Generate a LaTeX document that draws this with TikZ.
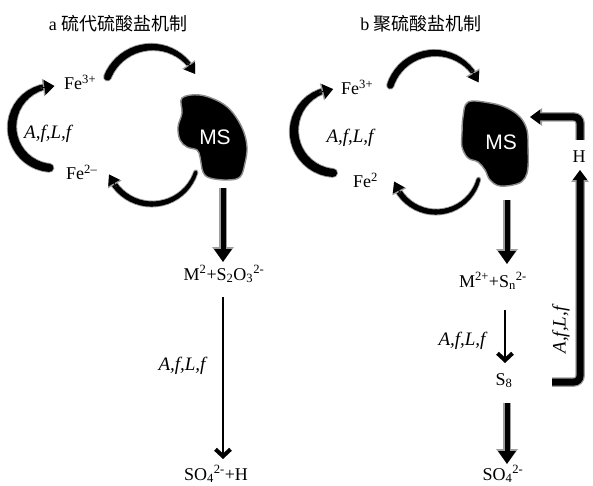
\documentclass[tikz,border=0pt]{standalone}
\usepackage{fontspec}
\setmainfont{Liberation Serif}
\newfontfamily\cjkfont{Noto Sans CJK SC}
\newfontfamily\msfont{Liberation Sans}
\usetikzlibrary{arrows.meta}

% tapered curved arrow: #1 cx, #2 cy, #3 r, #4 a1, #5 a2 (a2>a1), #6 w1, #7 w2, #8 bulge, #9 tip width
\newcommand\tarc[9]{%
  \pgfmathsetmacro\tipang{10/#3*57.2958}%
  \pgfmathsetmacro\bodyend{#5-\tipang*0.8}%
  \pgfmathsetmacro\tipstart{#5-\tipang*1.4}%
  \foreach \lw/\col in {1.8/black!38, 0/black}{%
    \foreach \k in {0,...,19}{%
      \pgfmathsetmacro\aa{#4+(\bodyend-#4)*\k/20}%
      \pgfmathsetmacro\ab{#4+(\bodyend-#4)*(\k+1)/20}%
      \pgfmathsetmacro\ww{#6+(#7-#6)*(\k+0.5)/20+#8*sin(180*(\k+0.5)/20)+\lw}%
      \draw[color=\col, line width=\ww pt, line cap=round]
        plot[domain=\aa:\ab, samples=3] ({#1+#3*cos(\x)},{#2+#3*sin(\x)});
    }%
  }%
  \pgfmathsetmacro\tw{#9+2.5}%
  \draw[black!38, line width=1pt, -{Triangle[length=11.5pt,width=\tw pt]}]
    plot[domain=\tipstart:#5, samples=2] ({#1+#3*cos(\x)},{#2+#3*sin(\x)});
  \draw[black, line width=1pt, -{Triangle[length=10pt,width=#9pt]}]
    plot[domain=\tipstart:#5, samples=2] ({#1+#3*cos(\x)},{#2+#3*sin(\x)});
}

\begin{document}
\begin{tikzpicture}[x=1pt,y=-1pt,
  lbl/.style={font=\fontsize{18}{20}\selectfont, inner sep=1pt},
  afl/.style={font=\fontsize{19}{22}\selectfont\itshape, inner sep=1pt},
  ttl/.style={font=\fontsize{18}{21}\selectfont, inner sep=1pt},
  mstext/.style={font=\msfont\fontsize{21}{24}\selectfont, text=white, inner sep=0pt},
  blob/.style={fill=black, draw=black!45, line width=1.4pt},
  thickhalo/.style={draw=black!38, line width=7.5pt, -{Triangle[length=15pt,width=21pt]}},
  thickcore/.style={draw=black, line width=5pt, -{Triangle[length=13pt,width=17pt]}},
  brhalo/.style={draw=black!38, line width=9.5pt, rounded corners=6pt, -{Triangle[length=12pt,width=17pt]}},
  brcore/.style={draw=black, line width=7pt, rounded corners=6pt, -{Triangle[length=10pt,width=14pt]}},
  thinarrow/.style={line width=1.3pt, -{Straight Barb[length=7pt,width=15pt,line width=4pt]}}
]
\useasboundingbox (0,0) rectangle (593,486);

% ---------- titles ----------
\node[ttl] (ta) at (118,24) {a {\cjkfont 硫代硫酸盐机制}};
\node[ttl] (tb) at (421,24) {b {\cjkfont 聚硫酸盐机制}};

% ---------- panel a ----------
\draw[blob] plot[smooth cycle, tension=0.6] coordinates {
  (182,98) (200,95) (220,102) (233,113) (243,130) (247,147) (245,163)
  (240,177) (227,180) (210,178) (203,172) (200,157) (197,150) (187,147)
  (180,140) (178,127) (182,113)};
\node[mstext] (msa) at (215,137) {MS};

\tarc{152}{95}{48}{-158}{-26}{7}{4}{1}{13}
\tarc{152}{158}{46}{18}{159}{3.5}{5.5}{0.5}{13}
\tarc{53}{127}{41}{95}{272}{8}{5}{2}{15}

\node[lbl, anchor=base west] (fe3a) at (63,90) {Fe\textsuperscript{3+}};
\node[afl, anchor=base west] (afla) at (23,139) {A,f,L,f};
\node[lbl, anchor=base west] (fe2a) at (65,180) {Fe\textsuperscript{2–}};

\node[lbl, anchor=base] (m2a) at (224,280) {M\textsuperscript{2}+S\textsubscript{2}O\textsubscript{3}\textsuperscript{2-}};
\node[afl, anchor=base] (afla2) at (182,370) {A,f,L,f};
\node[lbl, anchor=base] (so4a) at (216,480) {SO\textsubscript{4}\textsuperscript{2-}+H};

\coordinate (a1s) at (223,188);
\coordinate (a1e) at (223,262);
\coordinate (a2s) at (223,297);
\coordinate (a2e) at (223,459);
\draw[thickhalo] (a1s) -- (a1e);
\draw[thickcore] (a1s) -- (a1e);
\draw[thinarrow] (a2s) -- (a2e);

% ---------- panel b ----------
\draw[blob] plot[smooth cycle, tension=0.6] coordinates {
  (468,102) (490,103) (507,108) (520,117) (527,130) (528,147) (528,167)
  (525,178) (517,184) (500,186) (490,180) (485,170) (478,162) (468,158)
  (462,147) (462,133) (463,117)};
\node[mstext] (msb) at (501,142) {MS};

\tarc{435}{100}{47}{-162}{-22}{6.5}{4}{1}{13}
\tarc{436}{168}{44}{15}{162}{3.5}{5.5}{0.5}{13}
\tarc{336}{131}{42}{94}{266}{8}{5}{2}{15}

\node[lbl, anchor=base west] (fe3b) at (340,95) {Fe\textsuperscript{3+}};
\node[afl, anchor=base] (aflb) at (350,143) {A,f,L,f};
\node[lbl, anchor=base west] (fe2b) at (352,188) {Fe\textsuperscript{2}};
\node[lbl, anchor=base] (hb) at (579,163) {H};

\node[lbl, anchor=base] (m2b) at (493,287) {M\textsuperscript{2+}+S\textsubscript{n}\textsuperscript{2-}};
\node[afl, anchor=base] (aflb2) at (462,345) {A,f,L,f};
\node[lbl, anchor=base] (s8) at (504,385) {S\textsubscript{8}};
\node[lbl, anchor=base] (so4b) at (503,480) {SO\textsubscript{4}\textsuperscript{2-}};
\node[afl, rotate=90] (aflb3) at (561,330) {A,f,L,f};

\coordinate (b1s) at (507,200);
\coordinate (b1e) at (507,264);
\coordinate (b2s) at (505,310);
\coordinate (b2e) at (505,363);
\coordinate (b3s) at (507,403);
\coordinate (b3e) at (507,464);
\draw[thickhalo] (b1s) -- (b1e);
\draw[thickcore] (b1s) -- (b1e);
\draw[thinarrow] (b2s) -- (b2e);
\draw[thickhalo] (b3s) -- (b3e);
\draw[thickcore] (b3s) -- (b3e);

% return bracket S8 -> H
\coordinate (r1) at (552,382);
\coordinate (r2) at (580,382);
\coordinate (r3) at (580,170);
\draw[brhalo] (r1) -- (r2) -- (r3);
\draw[brcore] (r1) -- (r2) -- (r3);

% H -> MS
\coordinate (h1) at (580,140);
\coordinate (h2) at (580,117);
\coordinate (h3) at (530,117);
\draw[brhalo] (h1) -- (h2) -- (h3);
\draw[brcore] (h1) -- (h2) -- (h3);

\end{tikzpicture}
\end{document}
